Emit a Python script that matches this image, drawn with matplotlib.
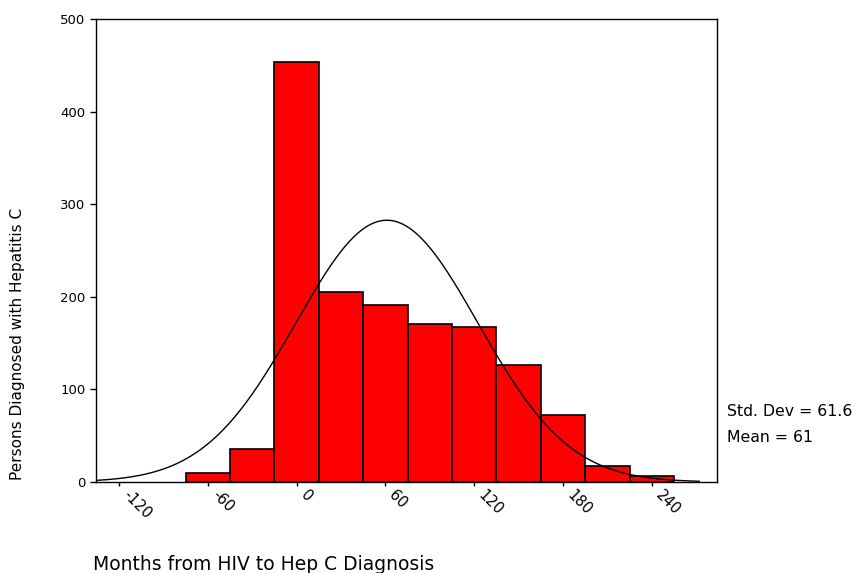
import numpy as np
import matplotlib
matplotlib.use("Agg")
import matplotlib.pyplot as plt

plt.rcParams['font.family'] = ['DejaVu Sans']

# Histogram data (bin centers in months, width 30)
bin_centers = [-60, -30, 0, 30, 60, 90, 120, 150, 180, 210, 240]
counts = [10, 36, 454, 205, 191, 171, 167, 126, 72, 17, 6]
bin_width = 30
mean_val = 61
std_val = 61.6
xticks = [-120, -60, 0, 60, 120, 180, 240]
yticks = [0, 100, 200, 300, 400, 500]

fig = plt.figure(figsize=(8.57, 5.73), dpi=100)
ax = fig.add_axes([96/857, 1-482/573, (717-96)/857, (482-19)/573])

ax.bar(bin_centers, counts, width=bin_width, color='#ff0000',
       edgecolor='black', linewidth=1.2, zorder=2)

n_total = sum(counts)
xc = np.linspace(-135, 272, 400)
yc = n_total * bin_width / (std_val * np.sqrt(2*np.pi)) * np.exp(-0.5*((xc-mean_val)/std_val)**2)
ax.plot(xc, yc, color='black', linewidth=1.0, zorder=3)

ax.set_xlim(-135.5, 284)
ax.set_ylim(0, 500)
ax.set_yticks(yticks)
ax.set_yticklabels([str(v) for v in yticks], fontsize=9.5)
ax.set_xticks(xticks)
ax.set_xticklabels([])
for x in xticks:
    ax.annotate(str(x), xy=(x, 0), xycoords=('data', 'axes fraction'),
                xytext=(4.5, -7.5), textcoords='offset points',
                rotation=-45, rotation_mode='anchor', ha='left', va='center',
                fontsize=10.5)
ax.tick_params(axis='both', direction='out', length=4, width=1, color='black')
ax.tick_params(axis='x', length=3)
for s in ax.spines.values():
    s.set_linewidth(1.0)
    s.set_color('black')

fig.text(18/857, 1-344/573, 'Persons Diagnosed with Hepatitis C',
         rotation=90, ha='center', va='center', fontsize=11)
fig.text(93/857, 1-565/573, 'Months from HIV to Hep C Diagnosis',
         ha='left', va='center', fontsize=13.5)
fig.text(727/857, 1-411/573, 'Std. Dev = 61.6', ha='left', va='center', fontsize=11.3)
fig.text(727/857, 1-438/573, 'Mean = 61', ha='left', va='center', fontsize=11.3)

fig.savefig('out.png', dpi=100)
